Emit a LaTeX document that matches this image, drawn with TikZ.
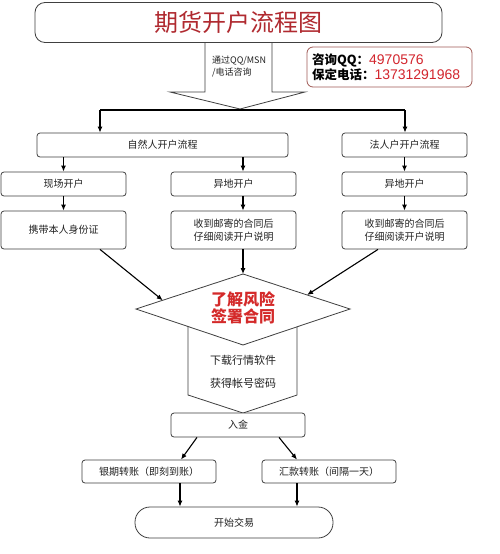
\documentclass[tikz,border=0pt]{standalone}
\usepackage{fontspec}
\setmainfont{Noto Sans CJK SC}
\newfontfamily\latinsans{Liberation Sans}
\usetikzlibrary{arrows.meta}
\definecolor{titlered}{HTML}{B02A30}
\definecolor{numred}{HTML}{D3262E}
\definecolor{riskred}{HTML}{D42A2A}
\definecolor{boxline}{HTML}{404040}
\definecolor{txt}{HTML}{222222}
\definecolor{contactline}{HTML}{A05A55}
\begin{document}
\begin{tikzpicture}[x=1pt,y=-1pt,
  box/.style={draw=boxline, line width=0.8pt, rounded corners=3pt, fill=white, inner sep=0pt, align=center, text=txt, font=\fontsize{10}{13}\selectfont},
  smallbox/.style={box, minimum width=125pt, minimum height=24pt},
  tallbox/.style={box, minimum width=125pt, minimum height=38pt},
  arr/.style={-{Latex[length=6pt,width=5pt]}, line width=1.1pt, black},
  outline/.style={draw=boxline, line width=0.8pt, fill=white}]
\useasboundingbox (0,0) rectangle (500,554);
\fill[white] (0,0) rectangle (500,554);

% big hollow arrow below the title
\draw[outline] (205,30) -- (205,92) -- (170,92) -- (240,109) -- (305,92) -- (272,92) -- (272,30);
\node[box, minimum width=407pt, minimum height=40pt, rounded corners=10pt, font=\fontsize{24}{26}\selectfont, text=titlered] (title) at (238.5,22.5) {期货开户流程图};
\node[align=left, anchor=north west, inner sep=0pt, font=\fontsize{9}{12}\selectfont, text=txt] (via) at (212,56) {通过QQ/MSN\\/电话咨询};

% contact box
\node[draw=contactline, line width=0.8pt, rounded corners=6pt, minimum width=165pt, minimum height=40pt, inner sep=0pt, text width=155pt, align=left, font=\fontsize{12.5}{15}\selectfont] (contact) at (389.5,67)
  {\textbf{咨询QQ：}\textcolor{numred}{\latinsans\fontsize{14}{15}\selectfont 4970576}\\
   \textbf{保定电话：}\textcolor{numred}{\latinsans\fontsize{14}{15}\selectfont 13731291968}};

% first level
\node[box, minimum width=251pt, minimum height=24pt] (ziran) at (162.5,145) {自然人开户流程};
\node[smallbox] (faren) at (404.5,145) {法人户开户流程};
\coordinate (hl) at (100,110);
\coordinate (hr) at (405,110);
\draw[line width=1.1pt] (hl) -- (hr);
\draw[arr] (hl) -- (hl |- ziran.north);
\draw[arr] (hr) -- (hr |- faren.north);

% second level
\node[smallbox] (xianchang) at (63.5,184) {现场开户};
\node[smallbox] (yidi1) at (233.5,184) {异地开户};
\node[smallbox] (yidi2) at (404.5,184) {异地开户};
\node[tallbox] (xiedai) at (63.5,230) {携带本人身份证};
\node[tallbox] (shoudao1) at (233.5,230) {收到邮寄的合同后\\仔细阅读开户说明};
\node[tallbox] (shoudao2) at (404.5,230) {收到邮寄的合同后\\仔细阅读开户说明};

\draw[arr] (xianchang.north |- ziran.south) -- (xianchang.north);
\draw[arr] ([xshift=9.5pt]yidi1.north |- ziran.south) -- ([xshift=9.5pt]yidi1.north);
\draw[arr] (faren.south) -- (yidi2.north);
\draw[arr] (xianchang.south) -- (xiedai.north);
\draw[arr] ([xshift=9.5pt]yidi1.south) -- ([xshift=9.5pt]shoudao1.north);
\draw[arr] (yidi2.south) -- (shoudao2.north);

% diamond and pentagon
\coordinate (dl) at (136,309);
\coordinate (dt) at (243,274);
\coordinate (dr) at (350,309);
\coordinate (db) at (243,345);
\draw[outline] (188,320) -- (188,395) -- (243,413) -- (297,395) -- (297,320);
\node[align=center, inner sep=0pt, text=txt, font=\fontsize{11}{23}\selectfont] (soft) at (243,371.5) {下载行情软件\\获得帐号密码};
\draw[outline] (dl) -- (dt) -- (dr) -- (db) -- cycle;
\node[align=center, inner sep=0pt, text=riskred, font=\bfseries\fontsize{16}{16.5}\selectfont] (risk) at (243,308) {了解风险\\签署合同};

\draw[arr] ([xshift=36.5pt]xiedai.south) -- (162.75,300.3);
\draw[arr] ([xshift=9.5pt]shoudao1.south) -- (dt);
\draw[arr] ([xshift=-26.5pt]shoudao2.south) -- (307,295);

% funding
\node[box, minimum width=134pt, minimum height=24pt] (rujin) at (238,425) {入金};
\node[box, minimum width=134pt, minimum height=23pt] (yinqi) at (149,471.5) {银期转账（即刻到账）};
\node[box, minimum width=134pt, minimum height=23pt] (huikuan) at (329,471.5) {汇款转账（间隔一天）};
\node[box, minimum width=198pt, minimum height=31pt, rounded corners=15pt] (kaishi) at (234,522.5) {开始交易};

\draw[arr] ([xshift=-41pt]rujin.south) -- ([xshift=32pt]yinqi.north);
\draw[arr] ([xshift=41pt]rujin.south) -- ([xshift=-32pt]huikuan.north);
\draw[arr] ([xshift=31pt]yinqi.south) -- ([xshift=31pt]yinqi.south |- kaishi.north);
\draw[arr] ([xshift=-32pt]huikuan.south) -- ([xshift=-32pt]huikuan.south |- kaishi.north);
\end{tikzpicture}
\end{document}
